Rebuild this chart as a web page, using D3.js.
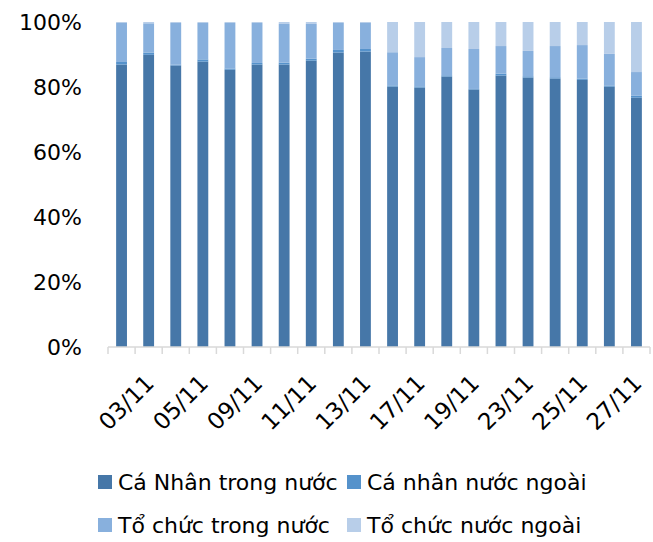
<!DOCTYPE html>
<html>
<head>
<meta charset="utf-8">
<script src="https://cdn.jsdelivr.net/npm/d3@7"></script>
<style>
  body { margin: 0; background: #fff; }
  text { font-family: "DejaVu Sans", sans-serif; fill: #000; }
</style>
</head>
<body>
<div id="chart"></div>
<script>
// trading days, Nov
var dates = ["02/11","03/11","04/11","05/11","06/11","09/11","10/11","11/11","12/11","13/11",
             "16/11","17/11","18/11","19/11","20/11","23/11","24/11","25/11","26/11","27/11"];
var shownDates = ["03/11","05/11","09/11","11/11","13/11","17/11","19/11","23/11","25/11","27/11"];

var caNhanTrongNuoc = [86.9, 89.9, 86.6, 87.8, 85.3, 86.9, 86.9, 88.1, 90.6, 90.9,
                       80.1, 79.8, 83.2, 79.2, 83.5, 82.9, 82.6, 82.2, 80.0, 76.7];
var caNhanNuocNgoai = [0.8, 0.7, 0.3, 0.7, 0.4, 0.5, 0.6, 0.6, 0.8, 0.8,
                       0.4, 0.4, 0.4, 0.2, 0.6, 0.4, 0.4, 0.4, 0.4, 0.6];
var toChucTrongNuoc = [12.0, 9.0, 12.8, 11.2, 14.0, 12.3, 11.9, 10.7, 8.3, 8.0,
                       10.2, 9.0, 8.4, 12.3, 8.5, 7.8, 9.6, 10.3, 9.7, 7.3];
var toChucNuocNgoai = [0.3, 0.4, 0.3, 0.3, 0.3, 0.3, 0.6, 0.6, 0.3, 0.3,
                       9.3, 10.8, 8.0, 8.3, 7.4, 8.9, 7.4, 7.1, 9.8, 15.4];

var seriesNames = ["Cá Nhân trong nước", "Cá nhân nước ngoài", "Tổ chức trong nước", "Tổ chức nước ngoài"];
var yTicks = [0, 0.2, 0.4, 0.6, 0.8, 1];

var width = 653,
    height = 542,
    colors = ["#4677a8", "#5592cb", "#88b0dd", "#b8cee9"];

var margin = {top: 22, right: 3, bottom: 195, left: 108},
    chartWidth = width - margin.left - margin.right,
    chartHeight = height - margin.top - margin.bottom;

var rows = dates.map(function(d, i){
  return {
    date: d,
    s0: caNhanTrongNuoc[i],
    s1: caNhanNuocNgoai[i],
    s2: toChucTrongNuoc[i],
    s3: toChucNuocNgoai[i]
  };
});

var stack = d3.stack()
    .keys(["s0","s1","s2","s3"])
    .offset(d3.stackOffsetExpand);
var layers = stack(rows);

var svg = d3.select("#chart").append("svg")
    .attr("width", width)
    .attr("height", height);

var chart = svg.append("g")
    .attr("transform", "translate(" + margin.left + "," + margin.top + ")");

var x = d3.scaleBand()
    .domain(dates)
    .range([0, chartWidth])
    .paddingInner(0.6)
    .paddingOuter(0.3);

var y = d3.scaleLinear()
    .domain([0, 1])
    .range([chartHeight, 0]);

// y labels, no axis line
var yAxis = d3.axisLeft(y)
    .tickValues(yTicks)
    .tickFormat(d3.format(".0%"))
    .tickSize(0)
    .tickPadding(26);

var gy = chart.append("g").call(yAxis);
gy.select(".domain").remove();
gy.selectAll("text")
    .style("font-size", "22px")
    .attr("font-family", null);

// bars
chart.selectAll("g.layer")
  .data(layers)
  .enter().append("g")
    .attr("class", "layer")
    .attr("fill", function(d, i){ return colors[i]; })
  .selectAll("rect")
  .data(function(d){ return d; })
  .enter().append("rect")
    .attr("x", function(d){ return x(d.data.date); })
    .attr("width", x.bandwidth())
    .attr("y", function(d){ return y(d[1]); })
    .attr("height", function(d){ return y(d[0]) - y(d[1]); });

// x axis: line and ticks at category boundaries
var step = x.step();
var bounds = d3.range(dates.length + 1).map(function(i){ return i * step; });

chart.append("line")
    .attr("x1", 0).attr("x2", chartWidth)
    .attr("y1", chartHeight).attr("y2", chartHeight)
    .attr("stroke", "#d9d9d9")
    .attr("stroke-width", 1.5);

chart.selectAll("line.tick")
  .data(bounds)
  .enter().append("line")
    .attr("class", "tick")
    .attr("x1", function(d){ return d; }).attr("x2", function(d){ return d; })
    .attr("y1", chartHeight).attr("y2", chartHeight + 7)
    .attr("stroke", "#d9d9d9")
    .attr("stroke-width", 1.5);

chart.selectAll("text.xlab")
  .data(shownDates)
  .enter().append("text")
    .attr("class", "xlab")
    .attr("text-anchor", "end")
    .attr("dy", "0.35em")
    .style("font-size", "23px")
    .attr("transform", function(d){
      return "translate(" + (x(d) + x.bandwidth() / 2 + 1) + "," + (chartHeight + 32) + ") rotate(-45)";
    })
    .text(function(d){ return d; });

// legend
var legendPos = [[98, 482], [347, 482], [98, 525], [347, 525]];

var legend = svg.selectAll("g.legend")
  .data(seriesNames)
  .enter().append("g")
    .attr("class", "legend")
    .attr("transform", function(d, i){ return "translate(" + legendPos[i][0] + "," + legendPos[i][1] + ")"; });

legend.append("rect")
    .attr("x", 0).attr("y", -7)
    .attr("width", 14).attr("height", 14)
    .attr("fill", function(d, i){ return colors[i]; });

legend.append("text")
    .attr("x", 20)
    .attr("dy", "0.35em")
    .style("font-size", "22px")
    .text(function(d){ return d; });
</script>
</body>
</html>
